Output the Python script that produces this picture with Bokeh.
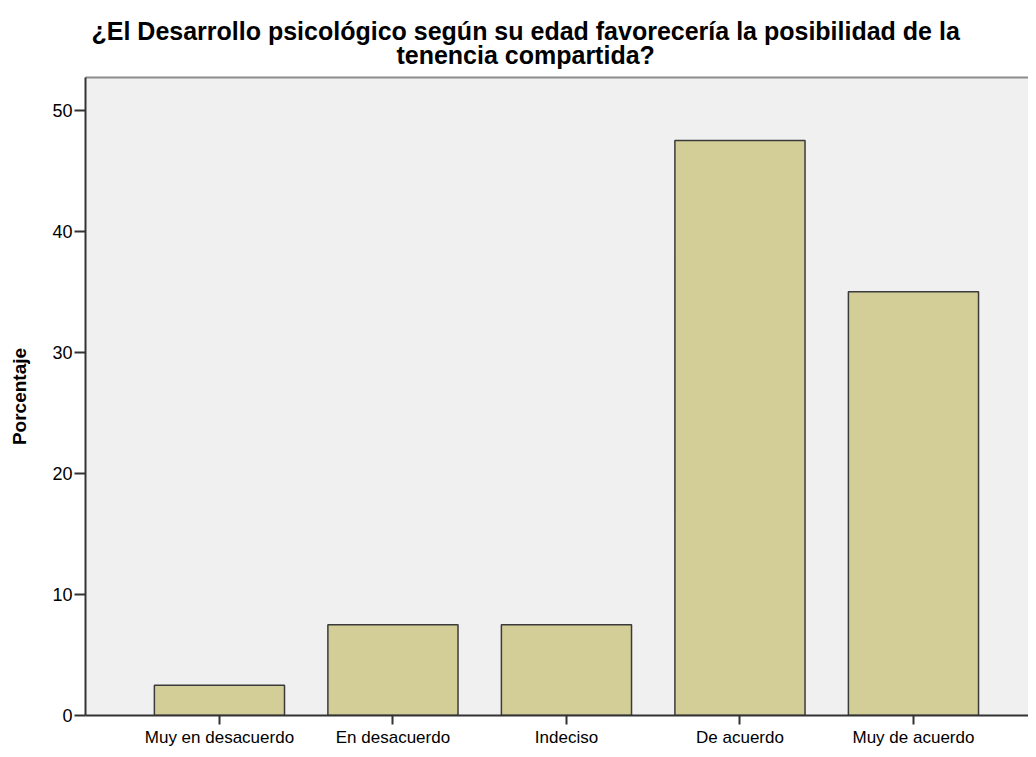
from bokeh.plotting import figure
from bokeh.models import Range1d, FixedTicker, LinearAxis, Title, ColumnDataSource
from bokeh.embed import file_html
from bokeh.resources import INLINE

categories = ["Muy en desacuerdo", "En desacuerdo", "Indeciso", "De acuerdo", "Muy de acuerdo"]
porcentaje = [2.5, 7.5, 7.5, 47.5, 35.0]
y_ticks = [0, 10, 20, 30, 40, 50]
title_text = ("¿El Desarrollo psicológico según su edad favorecería la posibilidad de la\n"
              "tenencia compartida?")

FONT = "Liberation Sans"

positions = list(range(len(categories)))
src = ColumnDataSource(dict(x=positions, top=porcentaje, cat=categories))

p = figure(width=1028, height=749, output_backend="svg", toolbar_location=None,
           x_range=Range1d(-0.772, 4.663), y_range=Range1d(0, 52.7),
           min_border_left=85, min_border_right=0, min_border_top=77, min_border_bottom=26)
p.title = None
p.background_fill_color = "#f0f0f0"
p.border_fill_color = "white"
p.outline_line_color = None
p.xgrid.visible = False
p.ygrid.visible = False

p.vbar(x="x", top="top", width=0.75, bottom=0, source=src,
       fill_color="#d3ce97", line_color="#3a3a3a", line_width=1.5)

# axes
xa = p.xaxis[0]
xa.ticker = FixedTicker(ticks=positions)
xa.major_label_overrides = {i: c for i, c in zip(positions, categories)}
xa.major_label_text_font = FONT
xa.major_label_text_font_size = "17px"
xa.major_label_text_color = "black"
xa.major_label_text_line_height = 0.8
xa.major_tick_out = 9
xa.major_tick_in = 0
xa.minor_tick_line_color = None
xa.major_label_standoff = 3
xa.axis_line_color = "#333333"
xa.axis_line_width = 2
xa.major_tick_line_color = "#333333"
xa.major_tick_line_width = 2

ya = p.yaxis[0]
ya.ticker = FixedTicker(ticks=y_ticks)
ya.major_label_text_font = FONT
ya.major_label_text_font_size = "18px"
ya.major_label_text_color = "black"
ya.major_tick_out = 11
ya.major_tick_in = 0
ya.minor_tick_line_color = None
ya.major_label_standoff = 2
ya.axis_line_color = "#333333"
ya.axis_line_width = 2
ya.major_tick_line_color = "#333333"
ya.major_tick_line_width = 2
ya.axis_label = "Porcentaje"
ya.axis_label_text_font = FONT
ya.axis_label_text_font_size = "19px"
ya.axis_label_text_font_style = "bold"
ya.axis_label_text_color = "black"
ya.axis_label_standoff = 19

top_axis = LinearAxis(ticker=FixedTicker(ticks=[]), axis_line_color="#8c8c8c",
                      axis_line_width=2, major_tick_line_color=None,
                      minor_tick_line_color=None, major_label_text_font_size="0px")
p.add_layout(top_axis, "above")

t = Title(text=title_text, align="left", offset=6, text_font=FONT,
          text_font_size="25px", text_font_style="bold", text_color="black",
          text_line_height=0.87, standoff=17)
try:
    t.text_align = "center"
except Exception:
    pass
p.add_layout(t, "above")

open("out.html", "w").write(file_html(p, INLINE))
